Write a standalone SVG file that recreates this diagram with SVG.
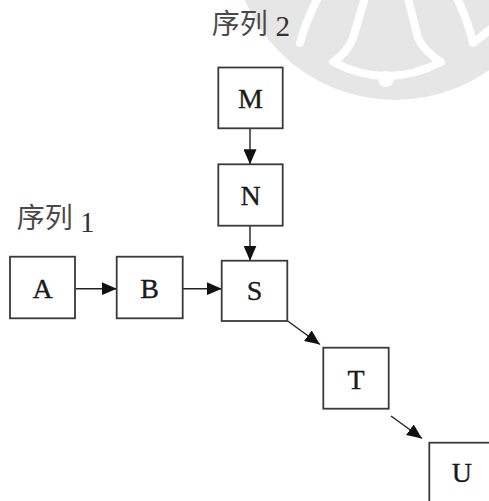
<svg xmlns="http://www.w3.org/2000/svg" width="489" height="501" viewBox="0 0 489 501">
<style>
.box{fill:#fff;stroke:#3a3a3a;stroke-width:1.8}
.lt{font-family:"Liberation Serif","Times New Roman",serif;font-size:28px;fill:#1a1a1a;stroke:#1a1a1a;stroke-width:0.35;text-anchor:middle}
.cjk{font-family:"Noto Sans CJK SC","Noto Sans CJK JP",sans-serif;font-size:28px;fill:#4a4a4a}
.dig{font-family:"Liberation Serif","Times New Roman",serif;font-size:29px;fill:#333}
.con{stroke:#222;stroke-width:1.4;fill:none}
.wm{fill:none;stroke:#fff;stroke-width:8;stroke-linecap:round;stroke-linejoin:round}
</style>
<defs>
<marker id="ah" markerUnits="userSpaceOnUse" markerWidth="15" markerHeight="13" refX="15" refY="6.5" orient="auto">
<path d="M0,0 L15,6.5 L0,13 z" fill="#111"/>
</marker>
</defs>
<rect width="489" height="501" fill="#fff"/>
<g id="watermark">
<circle cx="395" cy="-63" r="163" fill="#e6e6e6"/>
<path class="wm" d="M366,-6 L353,38 Q347,53 333,62 Q387,90 441,62 Q425,52 418,38 L407,-6"/>
<circle cx="386" cy="79" r="8" fill="#fff"/>
<path class="wm" d="M320,-6 Q306,20 300,43"/>
<path class="wm" d="M455,-6 Q468,20 473,43 L492,28"/>
</g>
<g id="labels">
<text class="cjk" x="16.7" y="227.5">序列</text><text class="dig" x="80" y="231.5">1</text>
<text class="cjk" x="211.7" y="34">序列</text><text class="dig" x="275.5" y="36">2</text>
</g>
<g id="connectors">
<line class="con" x1="250" y1="128.3" x2="250" y2="164.3" marker-end="url(#ah)"/>
<line class="con" x1="250" y1="225.7" x2="250" y2="260.7" marker-end="url(#ah)"/>
<line class="con" x1="75.5" y1="288.7" x2="116.7" y2="288.7" marker-end="url(#ah)"/>
<line class="con" x1="183" y1="288.7" x2="221.7" y2="288.7" marker-end="url(#ah)"/>
<line class="con" x1="287.3" y1="320.7" x2="320" y2="344.5" marker-end="url(#ah)"/>
<line class="con" x1="391" y1="416" x2="422" y2="438.5" marker-end="url(#ah)"/>
</g>
<g id="node-M"><rect class="box" x="218.3" y="67.5" width="64.4" height="60.8"/><text class="lt" x="250.5" y="108">M</text></g>
<g id="node-N"><rect class="box" x="218.3" y="164.3" width="64.4" height="61.4"/><text class="lt" x="250.5" y="205">N</text></g>
<g id="node-A"><rect class="box" x="10" y="256.7" width="65" height="61.6"/><text class="lt" x="42.5" y="297.7">A</text></g>
<g id="node-B"><rect class="box" x="116.7" y="256.7" width="66" height="61.6"/><text class="lt" x="149.7" y="298">B</text></g>
<g id="node-S"><rect class="box" x="221.7" y="260.7" width="65.6" height="60.3"/><text class="lt" x="254.5" y="300">S</text></g>
<g id="node-T"><rect class="box" x="323.3" y="347.7" width="65.4" height="61"/><text class="lt" x="356" y="389.3">T</text></g>
<g id="node-U"><rect class="box" x="429.3" y="442.7" width="65" height="61"/><text class="lt" x="461.8" y="482.3">U</text></g>
</svg>
